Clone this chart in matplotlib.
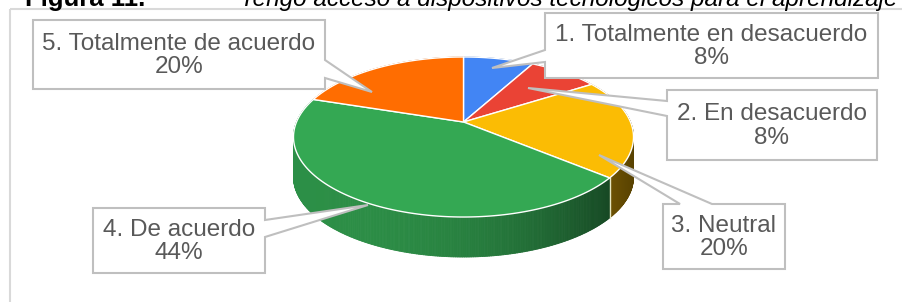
import numpy as np
import matplotlib.pyplot as plt
from matplotlib.patches import Polygon, Rectangle
from matplotlib.collections import PolyCollection
from matplotlib.colors import to_rgb

# datos
labels = ['1. Totalmente en desacuerdo', '2. En desacuerdo', '3. Neutral',
          '4. De acuerdo', '5. Totalmente de acuerdo']
values = [8, 8, 20, 44, 20]
colors = ['#4285F4', '#EA4335', '#FBBC04', '#34A853', '#FF6D01']

# cajas de etiquetas (x0, y0, x1, y1), lado de la punta, base de la punta, punta
boxes = [(545, 13, 878, 78), (667, 90, 877, 160), (663, 204, 785, 269),
         (93, 208, 265, 273), (33, 20, 325, 89)]
wedge_side = ['left', 'left', 'top', 'right', 'right']
wedge_base = [(50, 62), (101, 116), (680, 712), (220, 237), (60, 78)]
tips = [(492, 68), (528, 88), (599, 155), (368, 205), (372, 92)]

# geometria del pastel 3D (pixeles)
cx, cy = 463.5, 122
A, B, k = 167, 77.2, 0.1875
depth = 40


def proj(theta, r=1.0):
    t = np.radians(theta)
    u = r * np.sin(t)
    v = -r * np.cos(t)
    w = 1 - k * v
    return cx + A * u / w, cy + B * v / w, v


fig = plt.figure(figsize=(9.03, 3.02), dpi=100)
ax = fig.add_axes([0, 0, 1, 1])
ax.set_xlim(0, 903)
ax.set_ylim(302, 0)
ax.axis('off')

# marco exterior
ax.add_patch(Rectangle((10, 9), 1000, 400, fill=False, edgecolor='#d9d9d9', lw=1.5, zorder=0))

total = sum(values)
angles = np.concatenate([[0], np.cumsum(values)]) / total * 360

# lados
strips = []
x_left = cx - A * 1.018
for i, c in enumerate(colors):
    a, b = angles[i], angles[i + 1]
    th = np.linspace(a, b, max(2, int((b - a) / 0.5) + 1))
    base = np.array(to_rgb(c))
    for t1, t2 in zip(th[:-1], th[1:]):
        x1, y1, v1 = proj(t1)
        x2, y2, v2 = proj(t2)
        xm = (x1 + x2) / 2
        s = np.clip((xm - x_left) / (2 * A * 1.018), 0, 1)
        f = 0.85 - 0.5 * s ** 2.5
        strips.append(((v1 + v2) / 2, [(x1, y1), (x2, y2), (x2, y2 + depth), (x1, y1 + depth)], base * f))
strips.sort(key=lambda s: s[0])
pc = PolyCollection([s[1] for s in strips], facecolors=[s[2] for s in strips],
                    edgecolors=[s[2] for s in strips], linewidths=0.6, zorder=1)
ax.add_collection(pc)

for b in angles[1:-1]:
    x, y, v = proj(b)
    if v > 0:
        ax.plot([x, x], [y, y + depth], color='#e6e6c0', lw=1, zorder=2)

# cara superior
for i, c in enumerate(colors):
    a, b = angles[i], angles[i + 1]
    th = np.linspace(a, b, max(2, int(b - a) + 1))
    pts = [(cx, cy)] + [proj(t)[:2] for t in th]
    ax.add_patch(Polygon(pts, closed=True, facecolor=c, edgecolor='white', lw=1, zorder=3))

# etiquetas con punta
for i in range(len(values)):
    x0, y0, x1, y1 = boxes[i]
    b0, b1 = wedge_base[i]
    tip = tips[i]
    side = wedge_side[i]
    pts = [(x0, y0)]
    if side == 'top':
        pts += [(b0, y0), tip, (b1, y0)]
    pts.append((x1, y0))
    if side == 'right':
        pts += [(x1, b0), tip, (x1, b1)]
    pts += [(x1, y1), (x0, y1)]
    if side == 'left':
        pts += [(x0, b1), tip, (x0, b0)]
    ax.add_patch(Polygon(pts, closed=True, facecolor='white', edgecolor='#bfbfbf', lw=1.5, zorder=5))
    pct = '{:.0f}%'.format(values[i] / total * 100)
    ax.text((x0 + x1) / 2, (y0 + y1) / 2 + 1, labels[i] + '\n' + pct, ha='center', va='center',
            fontsize=17.5, color='#595959', family='Liberation Sans', linespacing=1.1, zorder=6)

# titulo (cortado arriba)
ax.text(25, 6, 'Figura 11.', fontsize=18.5, fontweight='bold', family='Liberation Sans',
        color='black', va='baseline', zorder=7)
ax.text(240, 6, 'Tengo acceso a dispositivos tecnológicos para el aprendizaje', fontsize=17.5,
        style='italic', family='Liberation Sans', color='black', va='baseline', zorder=7)

fig.savefig('out.png', dpi=100)
